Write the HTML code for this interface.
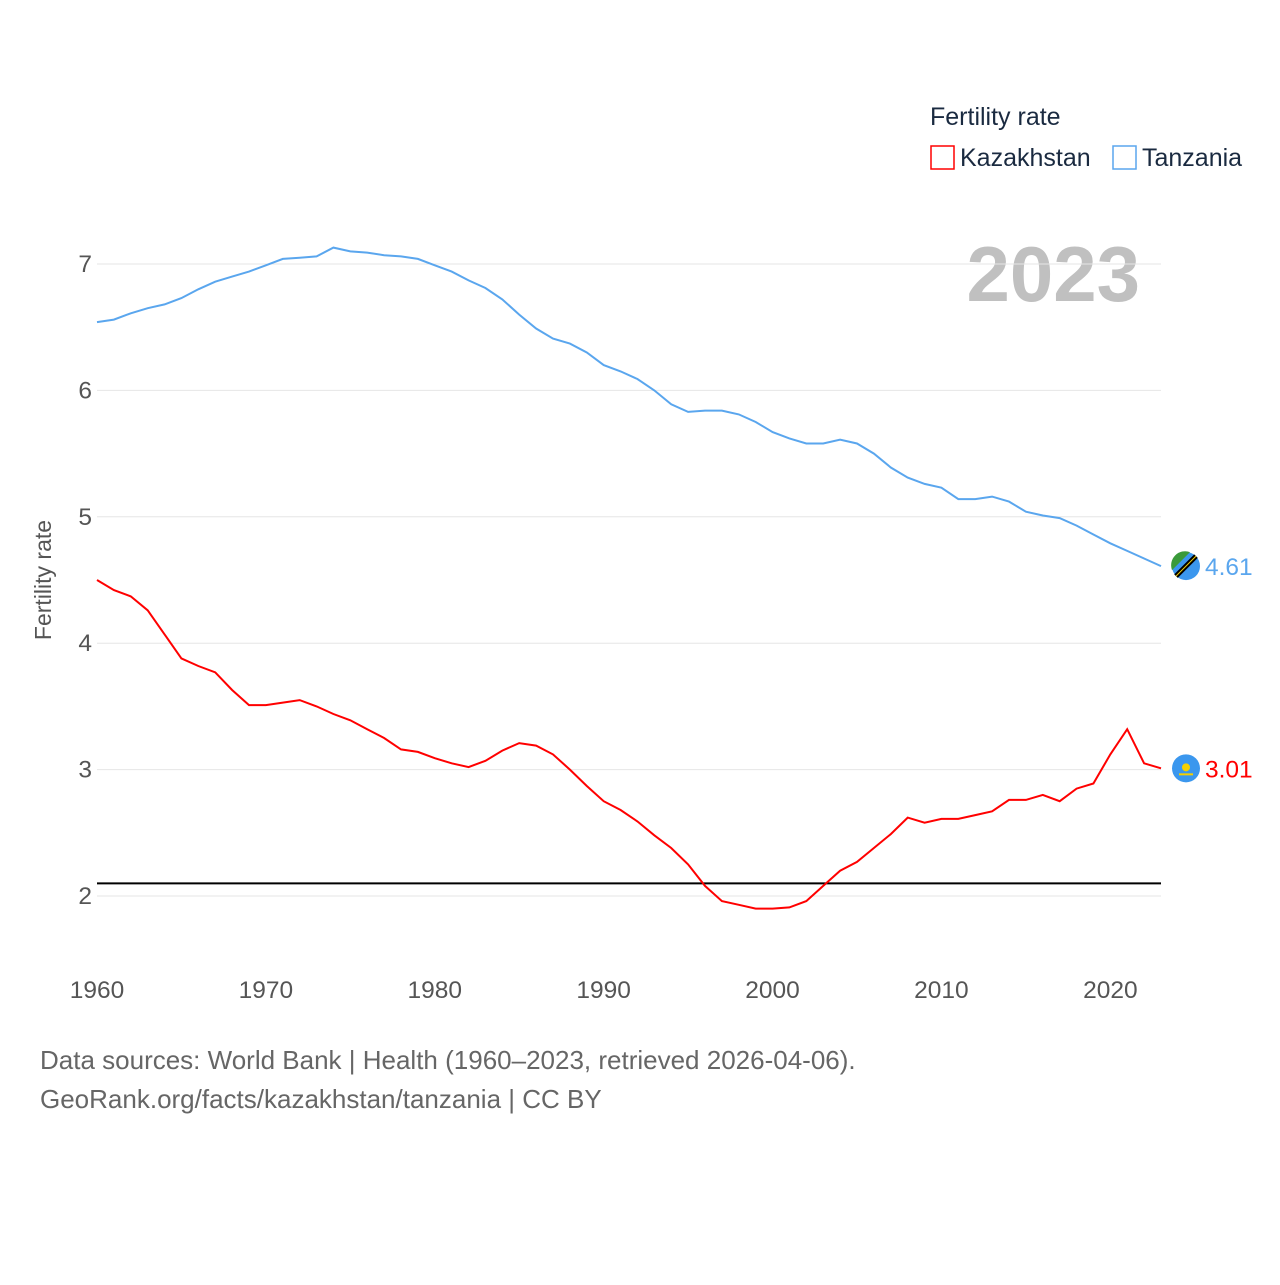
<!DOCTYPE html>
<html><head><meta charset="utf-8">
<style>
body{margin:0;background:#fff;font-family:"Liberation Sans",sans-serif;}
svg text{font-family:"Liberation Sans",sans-serif;}
</style></head>
<body>
<svg id="chart" width="1280" height="1280" xmlns="http://www.w3.org/2000/svg">
<text x="930" y="125" font-size="25" fill="#1a2a40">Fertility rate</text>
<g><rect x="931" y="146" width="23" height="23" fill="none" stroke="#ff0000" stroke-width="1.5"/><text x="960" y="166" font-size="25" fill="#1a2a40">Kazakhstan</text></g>
<g><rect x="1113" y="146" width="23" height="23" fill="none" stroke="#5aa6ee" stroke-width="1.5"/><text x="1142" y="166" font-size="25" fill="#1a2a40">Tanzania</text></g>
<text x="1140" y="301" font-size="78" font-weight="bold" fill="#c0c0c0" text-anchor="end">2023</text>
<text transform="translate(51,580) rotate(-90)" font-size="23" fill="#555" text-anchor="middle">Fertility rate</text>
<g id="grid"></g><g id="series"></g>
<text x="40" y="1069" font-size="26" fill="#666">Data sources: World Bank | Health (1960–2023, retrieved 2026-04-06).</text>
<text x="40" y="1108" font-size="26" fill="#666">GeoRank.org/facts/kazakhstan/tanzania | CC BY</text>
</svg>
<script>
const years=[];for(let y=1960;y<=2023;y++)years.push(y);
const tanzania=[6.54,6.56,6.61,6.65,6.68,6.73,6.80,6.86,6.90,6.94,6.99,7.04,7.05,7.06,7.13,7.10,7.09,7.07,7.06,7.04,6.99,6.94,6.87,6.81,6.72,6.60,6.49,6.41,6.37,6.30,6.20,6.15,6.09,6.00,5.89,5.83,5.84,5.84,5.81,5.75,5.67,5.62,5.58,5.58,5.61,5.58,5.50,5.39,5.31,5.26,5.23,5.14,5.14,5.16,5.12,5.04,5.01,4.99,4.93,4.86,4.79,4.73,4.67,4.61];
const kazakhstan=[4.50,4.42,4.37,4.26,4.07,3.88,3.82,3.77,3.63,3.51,3.51,3.53,3.55,3.50,3.44,3.39,3.32,3.25,3.16,3.14,3.09,3.05,3.02,3.07,3.15,3.21,3.19,3.12,3.00,2.87,2.75,2.68,2.59,2.48,2.38,2.25,2.08,1.96,1.93,1.90,1.90,1.91,1.96,2.08,2.20,2.27,2.38,2.49,2.62,2.58,2.61,2.61,2.64,2.67,2.76,2.76,2.80,2.75,2.85,2.89,3.12,3.32,3.05,3.01];
const yTicks=[2,3,4,5,6,7];
const xTicks=[1960,1970,1980,1990,2000,2010,2020];
const replacement=2.1;
const NS="http://www.w3.org/2000/svg";
const X=y=>97+(y-1960)*(1161-97)/63;
const Y=v=>896-(v-2)*126.4;
function mk(t,a,p){const e=document.createElementNS(NS,t);for(const k in a)e.setAttribute(k,a[k]);p.appendChild(e);return e;}
const grid=document.getElementById('grid'),ser=document.getElementById('series');
yTicks.forEach(v=>{
 const l=mk('line',{x1:97,x2:1161,y1:Y(v),y2:Y(v),stroke:'#e6e6e6','stroke-width':1},grid);
 
 
 const t=mk('text',{x:92,y:Y(v)+8,'font-size':24.5,fill:'#555','text-anchor':'end'},grid);t.textContent=v;
 
 
});
xTicks.forEach(v=>{
 const t=mk('text',{x:X(v),y:998,'font-size':24.5,fill:'#555','text-anchor':'middle'},grid);t.textContent=v;
 
 
});
const ref=mk('line',{x1:97,x2:1161,y1:Y(replacement),y2:Y(replacement),stroke:'#000','stroke-width':2},ser);


function line(data,color,name){
 const d=data.map((v,i)=>(i?'L':'M')+X(years[i]).toFixed(1)+','+Y(v).toFixed(1)).join('');
 const p=mk('path',{d:d,fill:'none',stroke:color,'stroke-width':2},ser);
 
 
 const last=data[data.length-1],cy=Y(last);
 const c=mk('circle',{cx:1186,cy:cy,r:14,fill:'#3b97ee'},ser);
 
 
 const t=mk('text',{x:1205,y:cy+9,'font-size':24.5,fill:color},ser);t.textContent=last.toFixed(2);
 
 
 return cy;
}
const ty=line(tanzania,'#5aa6ee','tanzania');
mk('path',{d:`M1172,${ty+4} A14,14 0 0 1 1190,${ty-14} L1172,${ty+4}Z`,fill:'#3a9a3a'},ser);
mk('line',{x1:1176,y1:ty+10,x2:1196,y2:ty-10,stroke:'#000','stroke-width':5},ser);
mk('line',{x1:1176,y1:ty+10,x2:1196,y2:ty-10,stroke:'#f5d000','stroke-width':1},ser);
const ky=line(kazakhstan,'#ff0000','kazakhstan');
mk('circle',{cx:1186,cy:ky-1,r:4,fill:'#f5d000'},ser);
mk('rect',{x:1179,y:ky+5,width:14,height:2,fill:'#f5d000'},ser);
</script>
</body></html>
